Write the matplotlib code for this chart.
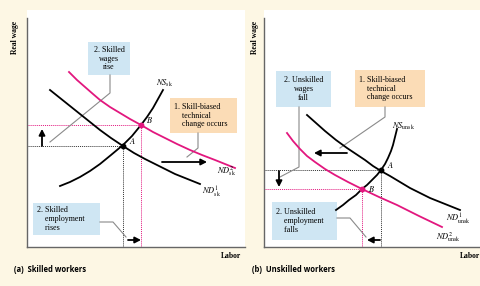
import matplotlib
matplotlib.use("Agg")
import matplotlib.pyplot as plt
from matplotlib.patches import Rectangle

plt.rcParams["mathtext.fontset"] = "stix"

# panel (a): skilled workers, labor / real wage in arbitrary units
sk_ns_x = [33, 43, 53, 63, 73, 84, 96, 105, 114, 120, 126, 131, 136]
sk_ns_y = [61, 65, 70, 76, 83, 92, 102, 111, 122, 130, 139, 148, 157]
sk_nd1_x = [23, 33, 43, 53, 63, 73, 84, 96, 107, 118, 128, 138, 148, 158, 173]
sk_nd1_y = [157, 149, 141, 133, 125, 117, 109, 101, 94, 88, 83, 78, 73, 69, 63]
sk_nd2_x = [42, 50, 58, 66, 73, 83, 93, 103, 114, 126, 138, 150, 163, 175, 188, 208]
sk_nd2_y = [175, 167, 160, 153, 147, 140, 134, 128, 122, 115, 109, 103, 97, 92, 87, 79]
sk_A = (96, 101)
sk_B = (114, 122)

# panel (b): unskilled workers
un_ns_x = [72, 79, 85, 92, 98, 103, 108, 113, 117, 121, 124, 127, 129, 131, 133]
un_ns_y = [37, 42, 47, 52, 58, 62, 67, 72, 77, 83, 89, 96, 102, 110, 118]
un_nd1_x = [43, 52, 61, 72, 83, 92, 101, 109, 117, 126, 136, 146, 156, 166, 176, 196]
un_nd1_y = [132, 124, 116, 107, 99, 93, 87, 81, 76, 71, 65, 59, 54, 49, 45, 37]
un_nd2_x = [23, 29, 36, 43, 51, 61, 71, 84, 98, 115, 133, 155, 178]
un_nd2_y = [114, 106, 98, 91, 85, 78, 72, 65, 58, 50, 42, 31, 20]
un_A = (117, 77)
un_B = (98, 58)

CREAM = "#fdf7e4"
PINK = "#e2177e"
BLUE = "#cfe6f3"
PEACH = "#fbdcb6"
GREY = "#8a8a8a"

fig = plt.figure(figsize=(4.8, 2.86), dpi=100, facecolor=CREAM)


def make_axes(left_px):
    ax = fig.add_axes([left_px / 480, 39 / 286, 218 / 480, 237 / 286])
    ax.set_xlim(0, 218)
    ax.set_ylim(0, 237)
    ax.set_facecolor("white")
    for s in ["top", "right"]:
        ax.spines[s].set_visible(False)
    ax.spines["left"].set_bounds(0, 229)
    for s in ["left", "bottom"]:
        ax.spines[s].set_color("#666666")
        ax.spines[s].set_linewidth(1.0)
    ax.set_xticks([])
    ax.set_yticks([])
    return ax


def box(ax, x0, y0, x1, y1, color, txt, align="center"):
    ax.add_patch(Rectangle((x0, y0), x1 - x0, y1 - y0, facecolor=color,
                           edgecolor="none", zorder=1))
    if align == "center":
        ax.text((x0 + x1) / 2, (y0 + y1) / 2, txt, ha="center", va="center",
                multialignment="center", fontsize=5.8, family="Liberation Serif",
                linespacing=1.1, zorder=2)
    else:
        ax.text(x0 + 4, (y0 + y1) / 2, txt, ha="left", va="center",
                fontsize=5.8, family="Liberation Serif", linespacing=1.1, zorder=2)


def arrow(ax, x0, y0, x1, y1, lw=1.3):
    ax.annotate("", xy=(x1, y1), xytext=(x0, y0),
                arrowprops=dict(arrowstyle="-|>,head_width=0.18,head_length=0.35",
                                color="black", lw=lw, shrinkA=0, shrinkB=0),
                zorder=4)


def draw_panel(ax, ns, nd1, nd2, A, B, labels):
    ax.plot(*nd2, color=PINK, lw=1.3, zorder=3)
    ax.plot(*ns, color="black", lw=1.3, zorder=3)
    ax.plot(*nd1, color="black", lw=1.3, zorder=3)
    ax.plot([0, A[0]], [A[1], A[1]], color="#333333", ls=(0, (1, 1)), lw=0.7)
    ax.plot([A[0], A[0]], [0, A[1]], color="#333333", ls=(0, (1, 1)), lw=0.7)
    ax.plot([0, B[0]], [B[1], B[1]], color=PINK, ls=(0, (1, 1)), lw=0.7)
    ax.plot([B[0], B[0]], [0, B[1]], color=PINK, ls=(0, (1, 1)), lw=0.7)
    ax.plot(*A, "o", color="black", ms=3.2, zorder=5)
    ax.plot(*B, "o", color=PINK, ms=3.2, zorder=5)
    for txt, x, y in labels:
        ax.text(x, y, txt, fontsize=6, ha="left", va="center", zorder=5)


# ---- panel (a)
axa = make_axes(27)
draw_panel(axa, (sk_ns_x, sk_ns_y), (sk_nd1_x, sk_nd1_y), (sk_nd2_x, sk_nd2_y),
           sk_A, sk_B,
           [(r"$A$", 102, 106), (r"$B$", 119, 127),
            (r"$NS_{\mathrm{sk}}$", 129, 164),
            (r"$ND^{2}_{\mathrm{sk}}$", 190, 76),
            (r"$ND^{1}_{\mathrm{sk}}$", 175, 55)])
box(axa, 61, 172, 103, 205, BLUE, "2. Skilled\nwages\nrise")
box(axa, 143, 114, 210, 149, PEACH, "1. Skill-biased\n    technical\n    change occurs", "left")
box(axa, 6, 12, 73, 44, BLUE, "2. Skilled\n    employment\n    rises", "left")
axa.plot([83, 83, 23], [172, 154, 105], color=GREY, lw=0.8, zorder=2)
axa.plot([171, 171, 160], [114, 99, 90], color=GREY, lw=0.8, zorder=2)
axa.plot([73, 86, 99], [25, 25, 10], color=GREY, lw=0.8, zorder=2)
arrow(axa, 15, 101, 15, 118)
arrow(axa, 135, 85, 180, 85)
arrow(axa, 101, 7, 114, 7)

# ---- panel (b)
axb = make_axes(264)
draw_panel(axb, (un_ns_x, un_ns_y), (un_nd1_x, un_nd1_y), (un_nd2_x, un_nd2_y),
           un_A, un_B,
           [(r"$A$", 123, 82), (r"$B$", 104, 58),
            (r"$NS_{\mathrm{unsk}}$", 128, 121),
            (r"$ND^{1}_{\mathrm{unsk}}$", 182, 28),
            (r"$ND^{2}_{\mathrm{unsk}}$", 172, 10)])
box(axb, 12, 140, 67, 176, BLUE, "2. Unskilled\nwages\nfall")
box(axb, 91, 140, 161, 177, PEACH, "1. Skill-biased\n    technical\n    change occurs", "left")
box(axb, 8, 7, 73, 45, BLUE, "2. Unskilled\n    employment\n    falls", "left")
axb.plot([35, 35, 16], [140, 80, 70], color=GREY, lw=0.8, zorder=2)
axb.plot([121, 121, 76], [140, 130, 99], color=GREY, lw=0.8, zorder=2)
axb.plot([73, 86, 102], [29, 29, 10], color=GREY, lw=0.8, zorder=2)
arrow(axb, 15, 76, 15, 60)
arrow(axb, 83, 94, 50, 94)
arrow(axb, 116, 7, 103, 7)

# ---- axis titles and panel captions
for xp in (15, 255):
    fig.text(xp / 480, 1 - 37 / 286, "Real wage", rotation=90, ha="center",
             va="center", fontsize=5.5, family="Liberation Serif", weight="bold")
fig.text(231 / 480, 1 - 256 / 286, "Labor", ha="center", va="center",
         fontsize=5.5, family="Liberation Serif", weight="bold")
fig.text(460 / 480, 1 - 256 / 286, "Labor", ha="left", va="center",
         fontsize=5.5, family="Liberation Serif", weight="bold")
fig.text(14 / 480, 1 - 270 / 286, "(a)  Skilled workers", ha="left", va="center",
         fontsize=5.5, weight="bold", family="Open Sans")
fig.text(252 / 480, 1 - 270 / 286, "(b)  Unskilled workers", ha="left", va="center",
         fontsize=5.5, weight="bold", family="Open Sans")

fig.savefig("out.png", dpi=100, facecolor=CREAM)
